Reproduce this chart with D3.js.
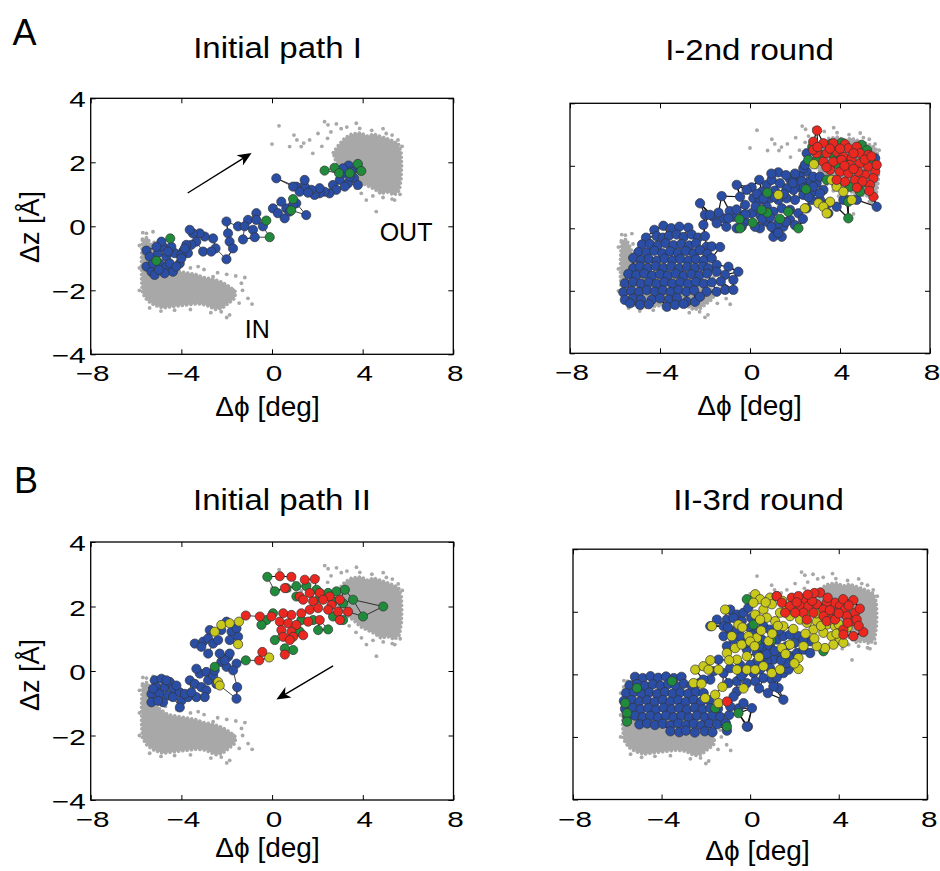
<!DOCTYPE html>
<html><head><meta charset="utf-8">
<script src="https://cdn.jsdelivr.net/npm/d3@7"></script>
<style>body{margin:0;background:#fff}svg{display:block}</style>
</head><body>
<svg id="fig" width="940" height="871"></svg>
<script>
// ---------------- DATA ----------------
const xTicks = [-8, -4, 0, 4, 8];
const yTicks = [-4, -2, 0, 2, 4];
const panelTitles = ["Initial path I", "I-2nd round", "Initial path II", "II-3rd round"];
const panelLetters = ["A", "B"];
const xLabel = "Δϕ [deg]";
const yLabel = "Δz [Å]";

// reference (equilibrium) gray clouds, shared by all panels
const grayOutRegion = [[2.7,2.3],[2.95,2.55],[3.2,2.75],[3.5,2.88],[3.9,2.92],[4.2,2.82],[4.5,2.88],[4.9,2.78],[5.3,2.68],[5.58,2.58],[5.7,2.3],[5.72,1.9],[5.7,1.5],[5.62,1.12],[5.4,0.98],[5.1,1.07],[4.8,1.02],[4.5,1.17],[4.2,1.27],[3.9,1.37],[3.6,1.57],[3.3,1.72],[3.05,1.87],[2.8,2.05]];
const grayInRegion = [[-5.72,-0.4],[-5.5,-0.35],[-5.3,-0.65],[-5.0,-1.15],[-4.6,-1.35],[-4.2,-1.4],[-3.8,-1.45],[-3.4,-1.5],[-3.0,-1.6],[-2.6,-1.65],[-2.2,-1.75],[-1.85,-1.9],[-1.6,-2.05],[-1.65,-2.25],[-1.95,-2.42],[-2.2,-2.56],[-2.5,-2.6],[-2.9,-2.46],[-3.3,-2.42],[-3.8,-2.46],[-4.3,-2.5],[-4.8,-2.55],[-5.2,-2.46],[-5.5,-2.32],[-5.72,-2.08],[-5.76,-1.6],[-5.76,-1.0]];
const grayDots = [[0.31,3.14],[0,2.57],[0.97,2.85],[0.78,2.49],[1.29,2.49],[1.8,2.28],[2.32,3.27],[2.47,3.17],[2.84,3.2],[3.72,3.22],[3.87,3.06],[4.6,0.46],[5.41,0.82],[4.16,0.82],[3.94,1.03],[5.04,2.9],[5.56,2.7],[1.66,2.7],[2.03,2.9],[2.2,2.5],[2.45,2.75],[2.6,2.95],[3.05,3.05],[3.3,3.1],[4.4,3.0],[4.9,3.05],[5.3,2.85],[5.65,1.0],[5.3,0.85],[4.9,0.9],[4.45,0.95],[3.7,1.2],[3.4,1.4],[5.74,2.5],[1.4,2.6],[1.1,2.7],
 [-0.88,-2.43],[-1.06,-2.25],[-1.35,-1.78],[-1.87,-2.77],[-2.24,-2.67],[-5.54,-0.22],[-5.25,-0.17],[-3.26,-1.26],[-2.6,-1.57],[-1.72,-1.99],[-1.3,-2.0],[-1.45,-2.4],[-2.0,-2.85],[-2.7,-2.7],[-3.6,-2.6],[-4.3,-2.62],[-4.9,-2.65],[-5.4,-2.55],[-5.7,-0.2],[-1.2,-1.6],[-1.6,-1.55],[-2.0,-1.5],[-2.4,-1.45],[-3.0,-1.35],[-3.6,-1.3],[-4.2,-1.2],[-4.7,-1.1],[-5.2,-0.5],[-5.85,-0.6],[-5.85,-1.3],[-5.85,-2.0]];

// Panel A, Initial path I
const aL_blue = [[3.38,1.9],[3.79,1.81],[3.5,1.71],[3.13,1.66],[3.62,1.5],[3.35,1.34],[3.79,1.29],[2.99,1.45],[2.69,1.29],[2.84,1.14],[2.54,1.03],[2.32,1.08],[2.1,1.03],[1.88,0.98],[2.1,1.19],[1.74,1.14],[1.44,1.24],[1.44,1.45],[1.07,1.24],[1.22,1.08],[0.93,1.24],[1.59,1.05],[3.21,1.24],[3.43,1.55],[3.13,1.81],[0.19,1.5],[1.07,0.72],[0.63,0.56],[0.41,0.77],[0.04,0.56],[0.26,0.41],[0.56,0.25],[0.93,0.67],[1.51,0.35],[0.78,0.46],[-0.69,0.41],[-1.06,0.2],[-0.69,0.2],[-1.5,0],[-1.21,0],[-0.84,-0.11],[-0.4,0],[-0.76,-0.34],[-1.28,-0.41],[-1.94,-0.22],[-1.87,-0.48],[-1.72,-0.69],[-2.01,-1.03],[-2.01,0.15],[-2.6,-0.38],[-2.49,-0.69],[-2.97,-0.32],[-3.04,-0.79],[-2.68,-0.79],[-3.19,-0.22],[-3.49,-0.22],[-3.63,-0.11],[-3.34,-0.48],[-3.56,-0.58],[-3.78,-0.58],[-3.93,-0.79],[-3.71,-0.84],[-5.54,-0.76],[-5.4,-0.95],[-5.54,-1.26],[-5.32,-1.42],[-5.18,-1.52],[-5.03,-0.84],[-4.81,-0.64],[-4.88,-0.48],[-4.66,-0.95],[-4.96,-1.16],[-4.66,-1.26],[-4.37,-1.42],[-4.51,-1.16],[-4.29,-0.84],[-4.0,-0.9],[-3.85,-0.69],[-4.07,-1.16],[-4.44,-0.64],[-5.1,-0.64],[-5.25,-1.16],[-4.74,-1.47],[-4.22,-1.26],[-4.0,-1.0],[-4.99,-1.36],[-4.59,-0.79]];
const aL_green = [[2.76,1.83],[3.79,1.95],[3.94,1.73],[2.32,1.74],[0.93,0.85],[-0.25,0.18],[-0.1,-0.34],[-4.49,-0.38],[-5.1,-1.08],[2.96,1.66],[3.43,1.66],[0.85,0.5]];

// Panel A, I-2nd round
const aR_blue = [
 [-4.25,-0.05],[-3.85,0.08],[-3.5,0.0],[-3.14,0.05],[-2.74,0.02],
 [-4.62,-0.3],[-4.15,-0.25],[-3.88,-0.3],[-3.6,-0.24],[-3.26,-0.2],[-2.95,-0.28],[-2.59,-0.2],[-2.3,-0.3],[-2.0,-0.25],
 [-4.8,-0.52],[-4.45,-0.5],[-4.1,-0.55],[-3.75,-0.48],[-3.4,-0.54],[-3.05,-0.5],[-2.7,-0.55],[-2.4,-0.48],[-1.93,-0.59],[-1.7,-0.58],[-1.33,-0.6],
 [-4.96,-0.76],[-4.6,-0.78],[-4.25,-0.72],[-3.9,-0.8],[-3.55,-0.74],[-3.2,-0.79],[-2.85,-0.73],[-2.5,-0.8],[-2.22,-0.7],[-1.9,-0.82],
 [-5.19,-0.95],[-4.85,-1.02],[-4.5,-0.98],[-4.15,-1.04],[-3.8,-0.97],[-3.45,-1.03],[-3.1,-0.98],[-2.75,-1.04],[-2.4,-0.99],[-2.05,-1.03],[-1.7,-0.96],
 [-5.19,-1.28],[-4.9,-1.22],[-4.55,-1.27],[-4.2,-1.21],[-3.85,-1.27],[-3.5,-1.22],[-3.15,-1.28],[-2.8,-1.23],[-2.45,-1.27],[-2.1,-1.22],[-1.85,-1.28],[-1.48,-1.17],[-0.96,-1.23],
 [-5.41,-1.46],[-5.05,-1.5],[-4.7,-1.45],[-4.35,-1.52],[-4.0,-1.47],[-3.65,-1.51],[-3.3,-1.45],[-2.95,-1.52],[-2.6,-1.47],[-2.25,-1.51],[-1.9,-1.45],[-1.48,-1.39],[-1.11,-1.49],[-0.52,-1.39],
 [-5.56,-1.76],[-5.2,-1.72],[-4.85,-1.77],[-4.5,-1.73],[-4.15,-1.78],[-3.8,-1.72],[-3.45,-1.77],[-3.1,-1.73],[-2.75,-1.78],[-2.4,-1.72],[-2.05,-1.77],[-1.7,-1.73],[-1.3,-1.7],[-0.74,-1.65],
 [-5.63,-2.05],[-5.28,-2.0],[-4.93,-2.04],[-4.58,-1.98],[-4.23,-2.03],[-3.88,-1.99],[-3.53,-2.04],[-3.18,-1.98],[-2.83,-2.03],[-2.48,-1.99],[-1.93,-2.03],[-1.48,-2.03],[-1.11,-1.97],[-0.74,-1.97],
 [-5.56,-2.29],[-5.2,-2.25],[-4.85,-2.28],[-4.37,-2.29],[-4.0,-2.24],[-3.6,-2.28],[-3.25,-2.23],[-2.81,-2.35],[-2.44,-2.35],[-2.22,-2.19],
 [-5.33,-2.4],[-4.89,-2.45],[-4.5,-2.43],[-3.7,-2.51],[-3.33,-2.45],[-2.95,-2.42],
 [-2.07,0.11],[-1.63,0.37],[-2.0,0.43],[-1.19,0.32],[-2.22,0.8],[-1.26,1.03],[-0.59,1.39],[-0.59,0.0],[-0.74,0.37],[-0.22,0.21],[-0.9,0.55],[-1.4,0.5],[-0.3,0.42],[-1.05,0.05],
 [0.07,1.31],[0.41,1.55],[0.74,1.39],[1.26,1.79],[1.78,1.57],[2.15,1.67],[2.52,1.81],[2.59,1.49],[2.22,1.31],[1.93,1.23],[1.63,1.28],[1.33,1.44],[0.96,1.55],[0.52,1.17],[0.15,0.96],[0.44,0.91],[0.89,0.96],[1.26,0.91],[1.63,0.96],[2.0,0.91],[2.37,1.07],[2.81,1.17],[2.96,1.44],[0.74,0.69],[1.04,0.53],[1.41,0.64],[1.78,0.59],[2.15,0.48],[2.52,0.64],[0.44,0.43],[0.74,0.21],[1.11,-0.05],[1.41,-0.27],[1.04,-0.27],[0.07,0.48],[-0.22,0.75],[-0.44,1.01],[-0.15,1.23],[1.78,0.27],[1.48,0.05],[0.44,0.0],[-0.96,0.32],[-1.48,0.16],[-1.78,0.43],[-0.37,0.05],[0.22,0.05],[2.74,0.91],[3.26,1.23],[3.48,0.48],[3.11,0.91],[2.81,1.65],[2.37,1.92],[5.63,0.69],[5.56,2.24],[2.52,2.4],[4.74,0.91],[4.3,0.91],[3.85,0.69],[2.44,2.03],[2.22,1.65],[3.11,1.65],[2.81,1.33],[3.11,1.12],[3.48,0.8],[4.15,0.91],
 [0.3,1.1],[0.6,0.95],[1.1,1.2],[1.5,1.1],[1.9,1.45],[2.3,1.5],[0.95,1.75],[1.6,1.7],[2.0,1.75],[0.25,0.7],[0.55,0.3],[0.9,0.35],[1.25,0.15],[1.6,0.2],[2.35,0.3],[2.6,1.0],[-0.2,0.45],[-0.6,0.6],[0.95,0.05],[1.25,-0.15],[2.0,0.1],[1.1,1.0],[2.4,1.3]];
const aR_green = [[-0.47,0.29],[0.12,0.18],[0.77,0.5],[0.52,0.59],[0.77,1.14],[1.33,0.3],[2.15,0.0],[2.49,1.25],[1.7,0.53],[-0.44,0.0],[2.77,2.61],[3.6,2.7],[4.07,2.74],[4.59,2.45],[4.96,2.67],[3.19,2.35],[3.7,2.35],[4.22,1.97],[5.41,2.08],[3.41,1.55],[3.85,1.39],[4.44,1.33],[4.89,1.17],[4.37,0.85],[4.37,0.32],[4.96,1.44],[2.59,2.19],[3.0,2.2],[4.3,2.2],[5.2,2.5],[3.9,2.05]];
const aR_yellow = [[2.84,2.05],[3.63,1.55],[3.85,1.33],[4.15,1.17],[3.56,0.85],[3.04,0.8],[3.26,0.69],[2.44,0.64],[3.41,0.48],[5.04,1.71],[4.52,0.91],[1.26,1.07]];
const aR_red = [[2.98,3.13],[2.81,2.77],[3.26,2.72],[3.7,2.72],[4.22,2.69],[4.37,2.56],[4.74,2.61],[2.96,2.4],[3.41,2.4],[3.85,2.45],[4.15,2.29],[4.52,2.24],[4.89,2.4],[5.26,2.35],[3.26,2.13],[3.7,2.13],[4.07,2.19],[4.44,2.03],[4.89,2.08],[5.26,1.97],[5.56,1.81],[3.56,1.87],[4.0,1.81],[4.37,1.76],[4.67,1.55],[5.11,1.71],[5.48,1.6],[5.33,1.39],[5.48,1.01],[4.22,1.49],[3.85,1.55],[5.63,2.03],[4.81,1.81],[2.81,2.51],[3.0,2.6],[3.55,2.55],[4.0,2.55],[4.6,2.4],[5.1,2.2],[5.4,2.3],[3.4,1.95],[4.2,2.0],[4.6,1.9],[5.0,1.5],[5.3,1.2],[4.75,1.3]];

// Panel B, Initial path II
const bL_blue = [[-5.18,-0.29],[-4.88,-0.24],[-5.1,-0.5],[-5.32,-0.71],[-5.32,-0.97],[-4.96,-0.71],[-4.74,-0.5],[-4.51,-0.34],[-4.37,-0.55],[-4.59,-0.76],[-4.81,-0.97],[-4.37,-0.81],[-4.07,-0.66],[-4.0,-0.92],[-4.07,-1.13],[-3.71,-0.81],[-3.63,-0.29],[-3.41,-0.4],[-3.19,-0.08],[-3.34,0.07],[-2.9,-0.03],[-3.12,-0.5],[-3.34,-0.81],[-2.82,-0.29],[-2.6,-0.14],[-2.9,-0.6],[-2.53,0.02],[-2.24,0.28],[-1.94,0.44],[-1.57,0.23],[-1.54,-0.5],[-1.57,-0.86],[-2.01,0.13],[-1.72,0.02],[-2.46,-0.4],[-3.41,0.85],[-3.04,0.91],[-2.75,1.27],[-2.82,1.01],[-3.12,0.75],[-2.82,0.54],[-2.6,0.85],[-2.38,0.96],[-2.24,1.27],[-2.01,1.53],[-1.79,1.22],[-1.87,0.96],[-1.57,1.32],[-1.5,1.06],[-1.87,0.54],[-2.09,0.33],[-2.31,0.54],[-5.25,-0.55],[-4.66,-0.29],[-5.03,-0.92],[-4.22,-0.45],[-3.85,-0.71],[-3.56,-0.66],[-2.97,-0.81]];
const bL_green = [[-2.53,0.13],[-1.16,0.33],[-0.21,2.92],[0.12,2.47],[0.63,2.57],[1.07,2.63],[1.51,2.63],[1.96,2.52],[2.47,2.42],[2.84,2.47],[3.21,2.52],[3.57,2.21],[3.13,2.1],[2.69,2.16],[4.9,2.0],[4.01,1.69],[3.13,1.58],[2.47,1.29],[2.03,1.27],[1.22,1.22],[0.93,0.65],[0.56,0.7],[0.12,0.96],[0.04,1.79],[-0.25,1.58],[-0.47,1.43],[1.07,2.31],[2.1,2.26],[1.81,1.58],[1.29,1.58],[2.69,1.69]];
const bL_yellow = [[-2.24,1.43],[-2.53,1.22],[-1.87,1.48],[-1.46,1.53],[-1.5,0.83],[-0.13,0.42],[-2.38,-0.34],[-2.31,-0.45]];
const bL_red = [[0.34,2.94],[0.85,2.92],[1.44,2.83],[1.88,2.85],[0.56,2.57],[1.22,2.31],[1.66,2.42],[2.1,2.42],[2.54,2.31],[1.37,2.21],[1.81,2.16],[2.25,2.21],[2.62,2.05],[2.99,2.21],[1.66,1.9],[2.03,1.95],[2.47,1.9],[2.91,1.84],[3.35,1.84],[1.29,1.79],[0.85,1.74],[0.49,1.79],[-0.54,1.69],[-1.16,1.72],[-0.03,1.69],[0.34,1.53],[0.71,1.48],[1.07,1.43],[1.59,1.53],[2.1,1.58],[0.41,1.27],[0.85,1.22],[0.49,1.06],[0.93,1.06],[1.37,1.11],[0.78,0.96],[-0.43,0.59],[-0.57,0.33],[0.56,0.51],[2.99,1.58]];

// Panel B, II-3rd round
const bR_blue = [
 [-5.2,-0.08],[-4.85,-0.12],[-4.5,-0.06],[-4.15,-0.11],[-3.8,-0.07],[-3.45,-0.12],[-3.1,-0.08],
 [-5.45,-0.35],[-5.1,-0.31],[-4.75,-0.37],[-4.4,-0.32],[-4.05,-0.36],[-3.7,-0.31],[-3.35,-0.37],[-3.0,-0.3],[-2.65,-0.36],[-2.3,-0.28],
 [-5.6,-0.6],[-5.25,-0.57],[-4.9,-0.62],[-4.55,-0.58],[-4.2,-0.63],[-3.85,-0.57],[-3.5,-0.62],[-3.15,-0.58],[-2.8,-0.62],[-2.45,-0.57],[-2.1,-0.6],
 [-5.7,-0.85],[-5.35,-0.82],[-5.0,-0.87],[-4.65,-0.83],[-4.3,-0.88],[-3.95,-0.82],[-3.6,-0.87],[-3.25,-0.83],[-2.9,-0.88],[-2.55,-0.82],[-2.2,-0.87],[-1.85,-0.83],
 [-5.65,-1.1],[-5.3,-1.07],[-4.95,-1.12],[-4.6,-1.08],[-4.25,-1.13],[-3.9,-1.07],[-3.55,-1.12],[-3.2,-1.08],[-2.85,-1.13],[-2.5,-1.07],[-2.15,-1.12],[-1.8,-1.08],[-1.45,-1.1],
 [-5.55,-1.35],[-5.2,-1.32],[-4.85,-1.37],[-4.5,-1.33],[-4.15,-1.38],[-3.8,-1.32],[-3.45,-1.37],[-3.1,-1.33],[-2.75,-1.38],[-2.4,-1.32],[-2.05,-1.37],[-1.7,-1.33],[-1.35,-1.36],[-0.95,-1.3],
 [-5.0,-1.6],[-4.65,-1.57],[-4.3,-1.62],[-3.95,-1.58],[-3.6,-1.63],[-3.25,-1.57],[-2.9,-1.62],[-2.55,-1.58],[-2.2,-1.63],[-1.85,-1.57],[-1.5,-1.6],[-1.1,-1.56],
 [-3.6,-1.82],[-3.2,-1.85],[-2.9,-1.8],[-2.5,-1.86],[-2.05,-1.82],[-1.7,-1.85],[-1.05,-1.8],[-0.1,-1.67],[-0.53,-1.09],[-0.9,-1.03],
 [-0.9,2.07],[-0.6,1.91],[-1.05,1.75],[-1.2,1.54],[-0.9,1.33],[-1.2,1.22],[-0.75,1.11],[-1.05,0.9],[-0.6,1.43],[-0.38,1.7],[0,1.49],[0.3,1.38],[0.6,1.54],[0.9,1.43],[0.53,1.11],[0.15,1.01],[-0.15,0.79],[0.3,0.68],[0.6,0.84],[0.9,0.9],[1.2,1.11],[1.5,1.22],[1.8,1.27],[2.18,1.22],[2.71,1.06],[1.65,0.9],[1.35,0.68],[1.05,0.47],[0.75,0.42],[0.45,0.15],[0.15,0.04],[-0.3,0.04],[-0.6,-0.22],[-0.15,-0.28],[0.23,-0.22],[0.6,-0.12],[0.98,-0.17],[1.28,-0.44],[1.5,-0.81],[1.05,-0.39],[-1.43,0.47],[-1.2,0.04],[-0.98,-0.28],[-0.6,-0.55],[-0.3,-0.92],[0.08,-1.08],[-0.15,-1.67],[-0.75,-0.71],[1.5,0.04],[1.73,0.15],[1.8,0.58],[2.11,0.68],[2.41,0.79],[2.71,0.68],[-1.65,0.1],[-1.8,-0.17],[-2.11,-0.17],[-0.3,1.97],[-0.08,2.13],[-1.8,1.54],[-1.5,1.75],[0.6,0.58],[1.65,0.36],
 [-0.4,1.2],[-0.2,1.0],[0.1,1.25],[0.4,0.9],[0.75,0.65],[1.1,0.75],[1.4,0.45],[0.9,0.2],[0.3,0.4],[0.0,0.3],[-0.45,0.3],[-0.9,0.2],[-0.4,-0.05],[0.4,-0.45],[0.8,-0.6],[1.2,-0.1],[-1.0,1.5],[-0.75,1.8],[2.0,1.0],[2.4,1.1],[1.3,1.4],[0.05,1.8]];
const bR_green = [[-5.56,-1.24],[-5.56,-1.51],[-5.11,-0.44],[-3.53,-0.22],[-1.58,-1.08],[-0.53,-1.24],[-1.05,-1.67],[-5.64,-0.92],[-0.15,2.4],[3.23,2.13],[3.31,0.74],[0.3,1.06],[0.95,1.08],[0.15,1.59],[4.21,1.97]];
const bR_yellow = [[0.23,2.56],[0.45,2.4],[0.15,2.29],[0.9,2.45],[1.2,2.5],[0.98,2.24],[0.6,2.07],[0.23,1.91],[1.35,1.97],[1.65,2.07],[2.03,2.18],[1.8,1.86],[2.26,1.75],[2.56,1.65],[3.01,1.7],[3.46,1.59],[3.83,1.54],[2.86,1.43],[3.31,1.33],[3.68,1.22],[4.06,1.11],[4.21,1.01],[3.76,0.95],[3.38,0.84],[3.01,0.9],[2.41,0.9],[2.18,0.52],[2.18,0.17],[1.8,0.95],[1.5,1.54],[1.13,1.7],[0.75,1.81],[-0.53,1.59],[-0.83,1.22],[-0.68,0.84],[-0.38,0.95],[-0.15,0.58],[-0.6,0.47],[-1.05,0.68],[-0.6,0.15],[-0.15,0.15],[0.23,0.15],[0.6,0.26],[0.98,0.04],[1.35,0.15],[-2.48,0.15],[-2.11,0.26],[-1.88,0.15],[-1.43,0.15],[-2.56,-0.28],[-2.03,-0.76],[-1.58,-0.65],[-1.43,-0.92],[-1.73,1.54],[-1.13,2.07],[0.3,1.17],[0.83,1.06],[-0.08,1.22],[1.43,0.84],[0.45,1.75],
 [-0.35,1.5],[0.0,1.05],[0.5,1.4],[1.0,1.3],[1.25,1.55],[1.95,1.45],[2.5,1.3],[2.9,1.15],[3.2,1.55],[3.6,1.75],[0.2,0.9],[-0.95,0.45],[-0.3,-0.45],[0.4,0.55],[1.6,0.65],[2.0,0.35],[-1.8,0.45],[-2.2,-0.3],[-1.25,-0.4],[0.7,2.3],[1.45,2.35],[2.6,2.0],[3.0,1.95],[3.5,1.95],[4.0,1.6],[4.4,1.5],[3.9,1.3]];
const bR_red = [[1.2,2.5],[1.88,2.45],[2.41,2.4],[3.16,2.61],[3.83,2.29],[4.66,2.37],[1.43,2.29],[1.8,2.18],[2.26,2.18],[2.63,2.18],[3.01,2.24],[3.46,2.29],[4.06,2.18],[4.29,2.07],[4.74,1.97],[4.59,1.7],[4.81,1.75],[5.11,1.35],[4.66,1.22],[4.21,1.43],[3.76,1.86],[3.31,2.07],[2.86,1.97],[2.41,1.97],[2.03,1.97],[1.58,1.97],[2.56,1.75],[3.31,1.86],[3.91,1.97],[4.36,1.86],[3.46,1.7],[-1.05,-0.87],[4.21,1.27],[3.83,1.75],[2.18,2.5],
 [2.1,2.3],[2.8,2.35],[3.5,2.45],[4.2,2.4],[4.45,2.2],[4.95,2.1],[4.9,1.55],[4.4,1.65],[3.6,2.05],[2.9,2.6],[2.6,2.55],[4.0,1.95]];

// arrows [x0,y0,x1,y1] and text annotations
const arrowsA = [[-3.72,1.04,-0.9,2.29]];
const arrowsB = [[2.69,0.16,0.19,-0.88]];
const notesA = [{text:"OUT", x:4.75, y:-0.45}, {text:"IN", x:-1.2, y:-3.48}];

// ---------------- DRAWING ----------------
const svg = d3.select('#fig');
const FONT = '"Liberation Sans", Arial, Helvetica, sans-serif';
const C = {blue:'#2a4ea6', green:'#1f8b3b', red:'#ea2820', yellow:'#c9c91c', gray:'#a8a8a8'};
const fmt = d => d < 0 ? '\u2212' + Math.abs(d) : String(d);

function drawPanel(cfg) {
  const x = d3.scaleLinear().domain([-8, 8]).range([cfg.left, cfg.right]);
  const y = d3.scaleLinear().domain([-4, 4]).range([cfg.bottom, cfg.top]);
  const g = svg.append('g');
  const cid = 'clip' + cfg.id;
  svg.append('defs').append('clipPath').attr('id', cid).append('rect')
    .attr('x', cfg.left).attr('y', cfg.top).attr('width', cfg.right - cfg.left).attr('height', cfg.bottom - cfg.top);
  const plot = g.append('g').attr('clip-path', `url(#${cid})`);

  const line = d3.line().x(d => x(d[0])).y(d => y(d[1])).curve(d3.curveLinearClosed);
  plot.selectAll('path.region').data([grayOutRegion, grayInRegion]).join('path')
    .attr('d', line).attr('fill', C.gray).attr('stroke', C.gray)
    .attr('stroke-width', 3.6).attr('stroke-dasharray', '0.1 4.2').attr('stroke-linecap', 'round');
  plot.selectAll('circle.gd').data(grayDots).join('circle')
    .attr('cx', d => x(d[0])).attr('cy', d => y(d[1])).attr('r', 1.9).attr('fill', C.gray);

  // links between neighbouring images
  const pts = [];
  cfg.series.forEach(s => s.data.forEach(d => pts.push([x(d[0]), y(d[1])])));
  const links = [];
  pts.forEach((p, i) => {
    const ds = pts.map((q, j) => [j, Math.hypot(q[0] - p[0], q[1] - p[1])]).filter(a => a[0] !== i).sort((a, b) => a[1] - b[1]);
    for (let k = 0; k < cfg.k; k++) if (ds[k] && ds[k][1] < cfg.maxLink) links.push([p, pts[ds[k][0]]]);
  });
  plot.append('g').selectAll('line').data(links).join('line')
    .attr('x1', d => d[0][0]).attr('y1', d => d[0][1]).attr('x2', d => d[1][0]).attr('y2', d => d[1][1])
    .attr('stroke', '#111').attr('stroke-width', cfg.lw);

  cfg.series.forEach(s => {
    plot.append('g').selectAll('circle').data(s.data).join('circle')
      .attr('cx', d => x(d[0])).attr('cy', d => y(d[1])).attr('r', cfg.r)
      .attr('fill', C[s.color]).attr('stroke', '#333').attr('stroke-width', 0.7);
  });

  // arrows
  (cfg.arrows || []).forEach(a => {
    const x0 = x(a[0]), y0 = y(a[1]), x1 = x(a[2]), y1 = y(a[3]);
    const L = Math.hypot(x1 - x0, y1 - y0), ux = (x1 - x0) / L, uy = (y1 - y0) / L, nx = -uy, ny = ux;
    const HL = 14, HW = 6, N = 4;
    g.append('line').attr('x1', x0).attr('y1', y0).attr('x2', x1 - (HL - N) * ux).attr('y2', y1 - (HL - N) * uy)
      .attr('stroke', '#000').attr('stroke-width', 1.4);
    const p = [[x1, y1], [x1 - HL * ux + HW * nx, y1 - HL * uy + HW * ny], [x1 - (HL - N) * ux, y1 - (HL - N) * uy], [x1 - HL * ux - HW * nx, y1 - HL * uy - HW * ny]];
    g.append('path').attr('d', 'M' + p.map(q => q.join(',')).join('L') + 'Z').attr('fill', '#000');
  });
  (cfg.notes || []).forEach(n => {
    g.append('text').attr('x', x(n.x)).attr('y', y(n.y)).text(n.text)
      .style('font-family', FONT).style('font-size', '25px').attr('fill', '#000');
  });

  // frame
  g.append('rect').attr('x', cfg.left).attr('y', cfg.top).attr('width', cfg.right - cfg.left).attr('height', cfg.bottom - cfg.top)
    .attr('fill', 'none').attr('stroke', '#000').attr('stroke-width', 1.3);

  // axes (inward ticks on all sides)
  const styleTicks = sel => { sel.select('.domain').remove(); sel.selectAll('line').attr('stroke', '#000').attr('stroke-width', 1); };
  const bx = g.append('g').attr('transform', `translate(0,${cfg.bottom})`)
    .call(d3.axisBottom(x).tickValues(xTicks).tickSize(-5).tickFormat(fmt));
  styleTicks(bx);
  bx.selectAll('text').attr('y', null).attr('dy', null).attr('fill', '#000')
    .style('font-family', FONT).style('font-size', '22px').attr('transform', 'translate(1.5,27) scale(1.35,1)');
  const tx = g.append('g').attr('transform', `translate(0,${cfg.top})`)
    .call(d3.axisTop(x).tickValues(xTicks).tickSize(-5).tickFormat(() => ''));
  styleTicks(tx);
  const ly = g.append('g').attr('transform', `translate(${cfg.left},0)`)
    .call(d3.axisLeft(y).tickValues(yTicks).tickSize(-5).tickFormat(cfg.yLabels ? fmt : () => ''));
  styleTicks(ly);
  ly.selectAll('text').attr('x', null).attr('dy', null).attr('fill', '#000')
    .style('font-family', FONT).style('font-size', '22px').attr('transform', 'translate(-5,8.5) scale(1.35,1)');
  const ry = g.append('g').attr('transform', `translate(${cfg.right},0)`)
    .call(d3.axisRight(y).tickValues(yTicks).tickSize(-5).tickFormat(() => ''));
  styleTicks(ry);

  // titles and labels
  svg.append('text').attr('text-anchor', 'middle').attr('transform', `translate(${cfg.titleX},${cfg.titleY}) scale(1.1,1)`)
    .text(cfg.title).style('font-family', FONT).style('font-size', '30px').attr('fill', '#000');
  svg.append('text').attr('text-anchor', 'middle').attr('x', cfg.xlabX).attr('y', cfg.xlabY)
    .text(xLabel).style('font-family', FONT).style('font-size', '28px').attr('fill', '#000');
  if (cfg.yLabels) {
    svg.append('text').attr('text-anchor', 'middle').attr('transform', `translate(39,${cfg.ylabY}) rotate(-90)`)
      .text(yLabel).style('font-family', FONT).style('font-size', '27px').attr('fill', '#000');
  }
}

drawPanel({id: 'aL', left: 90.7, right: 453.3, top: 98.3, bottom: 354.3, yLabels: true, r: 4.6, k: 2, maxLink: 45, lw: 0.8,
  title: panelTitles[0], titleX: 277.5, titleY: 58.3, xlabX: 267.5, xlabY: 415.5, ylabY: 227,
  series: [{color: 'blue', data: aL_blue}, {color: 'green', data: aL_green}], arrows: arrowsA, notes: notesA});
drawPanel({id: 'aR', left: 570, right: 930, top: 103.3, bottom: 353.3, yLabels: false, r: 4.7, k: 3, maxLink: 50, lw: 1.2,
  title: panelTitles[1], titleX: 749.5, titleY: 60, xlabX: 749.5, xlabY: 414.5,
  series: [{color: 'blue', data: aR_blue}, {color: 'green', data: aR_green}, {color: 'yellow', data: aR_yellow}, {color: 'red', data: aR_red}]});
drawPanel({id: 'bL', left: 90.7, right: 453.5, top: 542, bottom: 800, yLabels: true, r: 4.6, k: 2, maxLink: 45, lw: 0.8,
  title: panelTitles[2], titleX: 282, titleY: 510, xlabX: 267.5, xlabY: 857, ylabY: 675,
  series: [{color: 'blue', data: bL_blue}, {color: 'green', data: bL_green}, {color: 'yellow', data: bL_yellow}, {color: 'red', data: bL_red}], arrows: arrowsB});
drawPanel({id: 'bR', left: 573, right: 927.3, top: 549.2, bottom: 799.5, yLabels: false, r: 4.7, k: 3, maxLink: 45, lw: 1.1,
  title: panelTitles[3], titleX: 758.5, titleY: 510, xlabX: 757.5, xlabY: 860,
  series: [{color: 'blue', data: bR_blue}, {color: 'green', data: bR_green}, {color: 'yellow', data: bR_yellow}, {color: 'red', data: bR_red}]});

svg.append('text').attr('x', 12.5).attr('y', 45).text(panelLetters[0]).style('font-family', FONT).style('font-size', '36px').attr('fill', '#000');
svg.append('text').attr('x', 14).attr('y', 493).text(panelLetters[1]).style('font-family', FONT).style('font-size', '36px').attr('fill', '#000');
</script>
</body></html>
